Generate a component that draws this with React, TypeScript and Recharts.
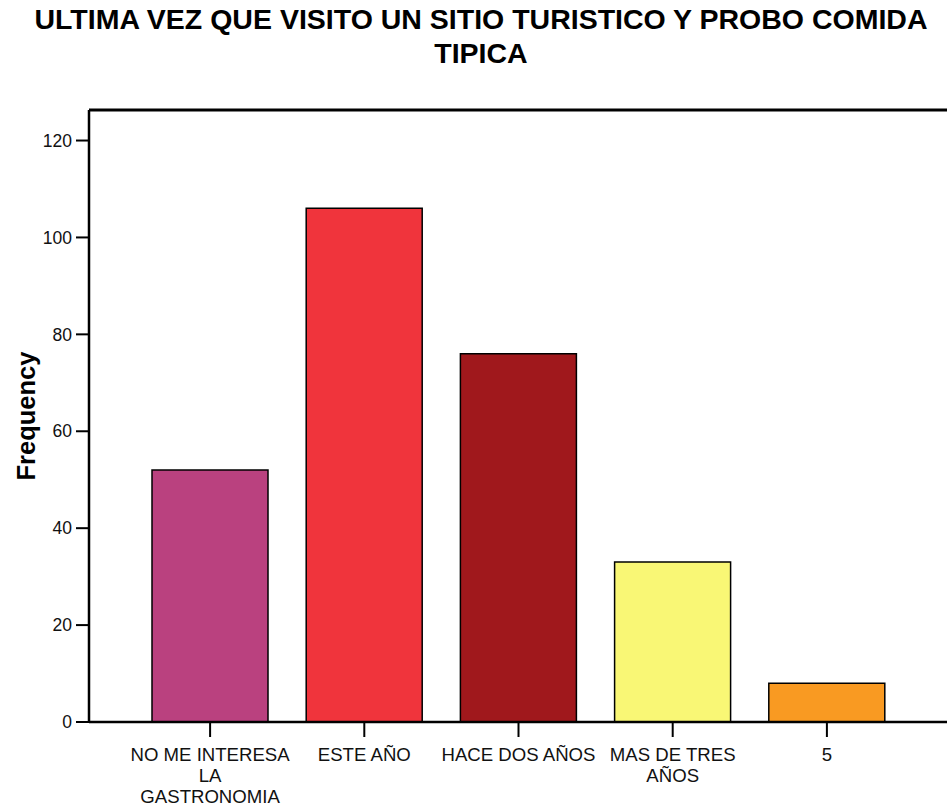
import React from 'react';
import { BarChart, Bar, XAxis, YAxis, Cell, ReferenceLine } from 'recharts';

const categories = ['NO ME INTERESA LA GASTRONOMIA', 'ESTE AÑO', 'HACE DOS AÑOS', 'MAS DE TRES AÑOS', '5'];
const tickLines = [['NO ME INTERESA', 'LA', 'GASTRONOMIA'], ['ESTE AÑO'], ['HACE DOS AÑOS'], ['MAS DE TRES', 'AÑOS'], ['5']];
const frequencies = [52, 106, 76, 33, 8];
const barColors = ['#BA417F', '#F0343C', '#A0181C', '#F9F775', '#F99A22'];
const yTicks = [0, 20, 40, 60, 80, 100, 120];
const yMax = 126.3;
const titleLines = ['ULTIMA VEZ QUE VISITO UN SITIO TURISTICO Y PROBO COMIDA', 'TIPICA'];
const yLabel = 'Frequency';

const data = categories.map((c, i) => ({ name: c, value: frequencies[i] }));

const FONT = '"Liberation Sans", Arial, Helvetica, sans-serif';

const XTick = (props: any) => {
  const { x, y, payload } = props;
  const idx = categories.indexOf(payload.value);
  const lines = idx >= 0 ? tickLines[idx] : [String(payload.value)];
  return (
    <text x={x} y={y + 21.5} textAnchor="middle" fontSize={18.6} fontFamily={FONT} fill="#111">
      {lines.map((l, i) => (
        <tspan key={i} x={x} dy={i === 0 ? 0 : 21}>{l}</tspan>
      ))}
    </text>
  );
};

const YLabel = (props: any) => {
  const vb = props.viewBox || {};
  const cx = 26;
  const cy = (vb.y || 0) + (vb.height || 0) / 2;
  return (
    <text x={cx} y={cy} transform={`rotate(-90 ${cx} ${cy})`} textAnchor="middle" dominantBaseline="central"
      fontSize={25.5} fontWeight="bold" fontFamily={FONT} fill="#000">{yLabel}</text>
  );
};

export default function App() {
  return (
    <div style={{ position: 'absolute', left: 0, top: 0, width: 947, height: 805, overflow: 'hidden', background: '#fff' }}>
      <div style={{ position: 'absolute', left: 0, top: 1.5, width: 962, textAlign: 'center', fontFamily: FONT, fontWeight: 'bold', fontSize: 28.5, lineHeight: '34px', color: '#000' }}>
        {titleLines.map((t, i) => <div key={i}>{t}</div>)}
      </div>
      <BarChart width={960} height={805} data={data} margin={{ top: 110, right: 12, bottom: 0, left: 0 }}>
        <XAxis dataKey="name" height={83} padding={{ left: 44, right: 44 }}
          stroke="#000" strokeWidth={2}
          axisLine={{ stroke: '#000', strokeWidth: 2.5 }} tickLine={{ stroke: '#000', strokeWidth: 2 }} tickSize={15}
          tick={<XTick />} interval={0} />
        <YAxis width={89} domain={[0, yMax]} ticks={yTicks} allowDataOverflow
          stroke="#000" strokeWidth={2}
          axisLine={{ stroke: '#000', strokeWidth: 2.5 }} tickLine={{ stroke: '#000', strokeWidth: 2 }} tickSize={13} tickMargin={4}
          tick={{ fontSize: 17.5, fontFamily: FONT, fill: '#111', stroke: 'none' }} label={<YLabel />} />
        <ReferenceLine y={yMax} stroke="#000" strokeWidth={3} ifOverflow="visible" />
        <Bar dataKey="value" barSize={116} stroke="#000" strokeWidth={1.5} isAnimationActive={false}>
          {data.map((d, i) => <Cell key={i} fill={barColors[i]} />)}
        </Bar>
      </BarChart>
    </div>
  );
}
